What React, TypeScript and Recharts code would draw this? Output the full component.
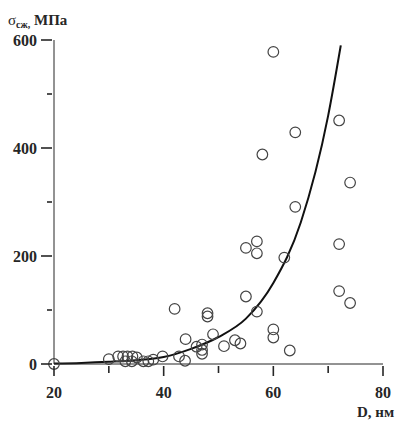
import { ComposedChart, Line, Scatter, XAxis, YAxis } from "recharts"

// measured points: D (nm) vs sigma (MPa)
const pointD = [
  20, 30, 31.7, 32.6, 33.4, 34.3, 35.1, 33, 34.2, 36.3, 37.2, 38.1, 39.8, 42, 42.8, 43.9, 44, 46,
  47, 47, 47, 48, 48, 49, 51, 53, 54, 55, 55, 57, 57, 57, 58, 60, 60, 60, 62, 63, 64, 64, 72, 72,
  72, 74, 74,
]
const pointSigma = [
  0, 9, 14, 14, 14, 14, 12, 5, 5, 5, 5, 8, 14, 102, 14, 6, 46, 32, 36, 26, 19, 94, 88, 55, 33, 44,
  38, 215, 125, 227, 205, 97, 388, 578, 64, 49, 197, 25, 429, 291, 451, 222, 135, 336, 113,
]

// fitted curve
const curveD = [20, 25, 30, 35, 40, 45, 50, 55, 60, 65, 70, 72.3]
const curveSigma = [1, 2, 4, 7, 13, 28, 50, 84, 150, 262, 460, 590]

const xTicks = [20, 30, 40, 50, 60, 70, 80]
const yTicks = [0, 100, 200, 300, 400, 500, 600]

const points = pointD.map((d, i) => ({ d, s: pointSigma[i] }))
const curve = curveD.map((d, i) => ({ d, s: curveSigma[i] }))

const ink = "#262626"
const font = "'Liberation Serif', 'Times New Roman', serif"

const XTick = (props: any) => {
  const { x, y, payload } = props
  const major = payload.value % 20 === 0
  return (
    <g>
      <line x1={Number(x)} x2={Number(x)} y1={Number(y)} y2={Number(y) + (major ? 10 : 7)} stroke={ink} strokeWidth={1.6} />
      <text x={Number(x)} y={Number(y) + 32} textAnchor="middle" fontFamily={font} fontWeight="bold" fontSize={16} fill={ink}>
        {major ? payload.value : ""}
      </text>
    </g>
  )
}

const YTick = (props: any) => {
  const { x, y, payload } = props
  const major = payload.value % 200 === 0
  return (
    <g>
      <line x1={Number(x) - (major ? 11 : 5)} x2={Number(x)} y1={Number(y)} y2={Number(y)} stroke={ink} strokeWidth={1.6} />
      <text x={Number(x) - 15} y={y} dy="0.36em" textAnchor="end" fontFamily={font} fontWeight="bold" fontSize={16} fill={ink}>
        {major ? payload.value : ""}
      </text>
    </g>
  )
}

const YTitle = () => (
  <text x={8} y={25} fontFamily={font} fontWeight="bold" fontSize={15} fill={ink}>
    <tspan fontWeight="normal">σ</tspan>
    <tspan fontSize={10} dy={3}>сж,</tspan>
    <tspan dy={-3}> МПа</tspan>
  </text>
)

const XTitle = () => (
  <text x={357} y={417} fontFamily={font} fontWeight="bold" fontSize={15} fill={ink}>
    D, нм
  </text>
)

const Ring = (props: any) => (
  <circle cx={props.cx} cy={props.cy} r={5.3} fill="none" stroke="#444" strokeWidth={1.2} />
)

export default function App() {
  return (
    <div style={{ position: "absolute", left: 0, top: 0, width: 401, height: 421, background: "#fff" }}>
      <ComposedChart width={401} height={421} margin={{ top: 40, right: 18, bottom: 0, left: 0 }}>
        <XAxis
          dataKey="d"
          type="number"
          domain={[20, 80]}
          ticks={xTicks}
          height={57}
          tickSize={0}
          tickLine={false}
          tick={<XTick />}
          stroke={ink}
          label={<XTitle />}
        />
        <YAxis
          dataKey="s"
          type="number"
          domain={[0, 600]}
          ticks={yTicks}
          width={54}
          tickSize={0}
          tickLine={false}
          tick={<YTick />}
          stroke={ink}
          label={<YTitle />}
        />
        <Line
          data={curve}
          dataKey="s"
          type="monotone"
          stroke="#111"
          strokeWidth={2}
          dot={false}
          isAnimationActive={false}
        />
        <Scatter data={points} dataKey="s" shape={<Ring />} isAnimationActive={false} />
      </ComposedChart>
    </div>
  )
}
